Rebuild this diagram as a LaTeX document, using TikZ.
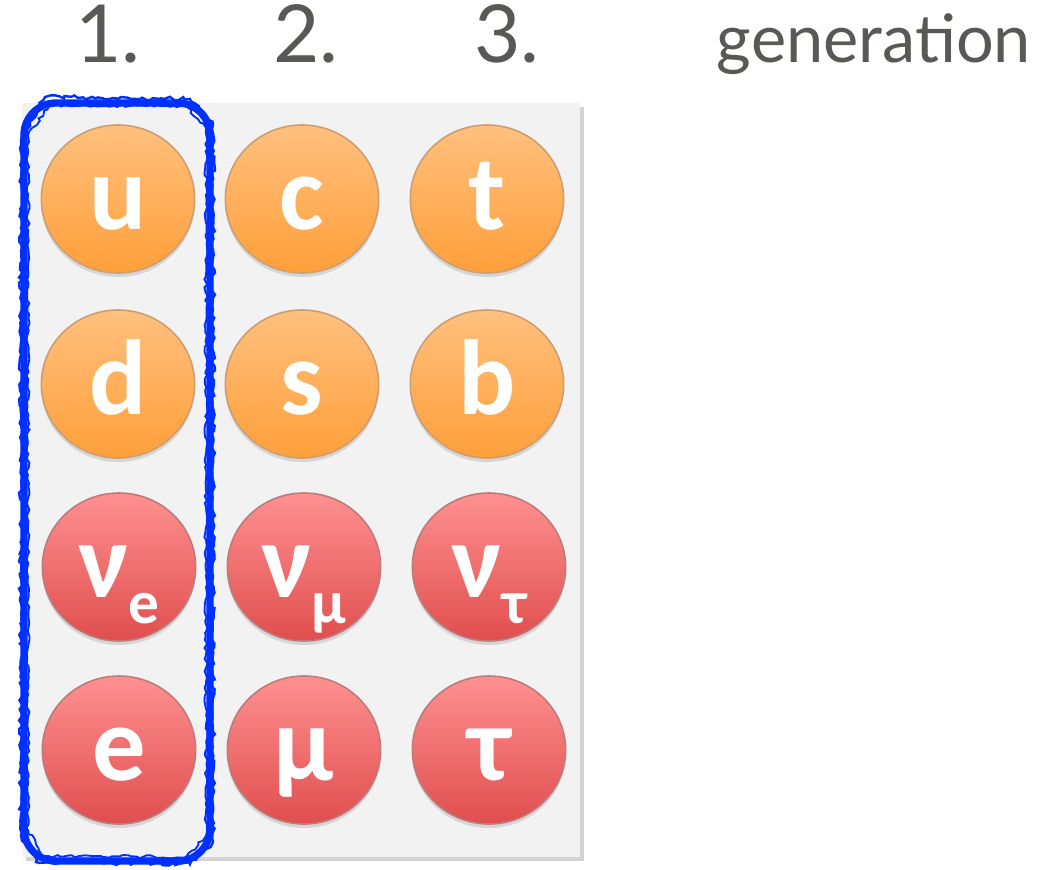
\documentclass[tikz,border=0pt]{standalone}
\usepackage{fontspec}
\setmainfont{Carlito}
\newfontfamily\genfont{Lato}
\usetikzlibrary{shapes.geometric,shadows,decorations.pathmorphing}
\definecolor{quarktop}{HTML}{FFC07E}
\definecolor{quarkbot}{HTML}{FF9F3A}
\definecolor{quarkrim}{HTML}{B87434}
\definecolor{leptontop}{HTML}{FF9090}
\definecolor{leptonbot}{HTML}{E04E4E}
\definecolor{leptonrim}{HTML}{A04242}
\definecolor{gentext}{HTML}{5A5854}
\definecolor{panelgray}{HTML}{F2F2F2}
\definecolor{markblue}{HTML}{0030FF}
\newcommand{\lsub}[1]{\raisebox{-19pt}{\fontsize{46}{50}\selectfont #1}}

\begin{document}
\begin{tikzpicture}[x=0.75pt, y=-0.75pt,
  ball/.style={ellipse, minimum width=115pt, minimum height=111pt, inner sep=0pt,
    draw=#1rim!70, line width=1.2pt, top color=#1top, bottom color=#1bot,
    drop shadow={shadow xshift=0pt, shadow yshift=-3pt, opacity=0.25},
    text=white, font=\fontsize{80}{90}\selectfont\bfseries,
    text height=46pt, text depth=0pt},
  genlabel/.style={anchor=base, text=gentext, font=\genfont\fontsize{50}{60}\selectfont},
  numlabel/.style={genlabel, font=\genfont\fontsize{60}{70}\selectfont},
  sketch/.style={markblue, decorate, decoration={random steps, segment length=3pt, amplitude=#1}}]
  \useasboundingbox (0,0) rectangle (1038,869);
  % panel
  \fill[panelgray, drop shadow={shadow xshift=3pt, shadow yshift=-3pt, opacity=0.35}] (22,103) rectangle (580,857);
  % generation labels
  \node[numlabel] (g1) at (108,62) {1.};
  \node[numlabel] (g2) at (306,62) {2.};
  \node[numlabel] (g3) at (507,62) {3.};
  \node[genlabel] (gen) at (874,62) {generation};
  % quarks
  \node[ball=quark] (u) at (118,199) {u};
  \node[ball=quark] (c) at (302,199) {c};
  \node[ball=quark] (t) at (487,199) {t};
  \node[ball=quark] (d) at (118,384) {d};
  \node[ball=quark] (s) at (302,384) {s};
  \node[ball=quark] (b) at (487,384) {b};
  % leptons
  \node[ball=lepton] (nue) at (119,567) {ν\lsub{e}};
  \node[ball=lepton] (numu) at (304,567) {ν\lsub{μ}};
  \node[ball=lepton] (nutau) at (489,567) {ν\lsub{τ}};
  \node[ball=lepton] (e) at (119,750) {e};
  \node[ball=lepton] (mu) at (304,750) {μ};
  \node[ball=lepton] (tau) at (489,750) {τ};
  % first generation marker
  \pgfmathsetseed{7}
  \draw[markblue, line width=5.5pt, rounded corners=24pt] (24,103) rectangle (210,861);
  \draw[sketch=1.5pt, line width=1.8pt]
    (21,140) -- (21,835) -- (36,862) -- (190,864) -- (213,842) -- (213,125) -- (190,99) -- (45,97) -- cycle;
  \draw[sketch=1.2pt, line width=1.4pt]
    (28,135) -- (28,830) -- (44,856) -- (186,857) -- (206,836) -- (206,128) -- (186,106) -- (50,105) -- cycle;
\end{tikzpicture}
\end{document}
